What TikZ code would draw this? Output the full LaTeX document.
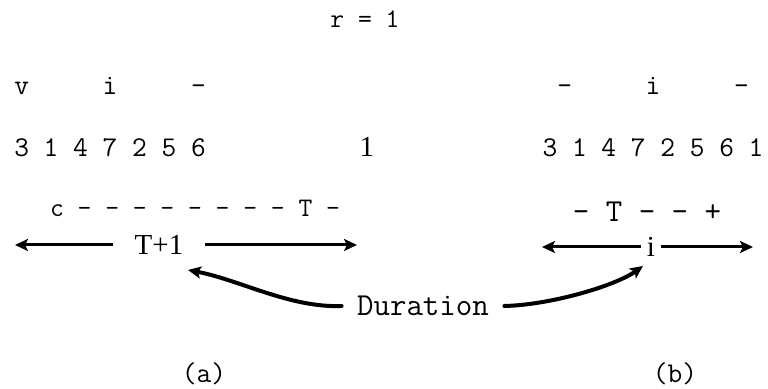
\documentclass[tikz,border=0pt]{standalone}
\usepackage{fontspec}
\newfontfamily\handset{Liberation Serif}
\usetikzlibrary{arrows.meta, positioning}
\tikzset{
    scan/.style={x=0.5pt, y=-0.5pt, >={Stealth[length=6.5pt, width=6pt, inset=1.5pt]}, line width=1.5pt},
    row/.style={anchor=base, inner sep=0pt, font=\fontsize{14.3pt}{16pt}\ttfamily},
    rownarrow/.style={row, font=\fontsize{13.4pt}{16pt}\ttfamily},
    rowwide/.style={row, font=\fontsize{16pt}{18pt}\ttfamily},
    hand/.style={inner ysep=0pt, font=\fontsize{14.5pt}{16pt}\handset},
    % the bent pointers from the word Duration
    pointer/.style={->, line width=2pt, line cap=round},
}

\begin{document}
\begin{tikzpicture}[scan]
    \useasboundingbox (0,0) rectangle (768,389);

    \node[rownarrow] (rone)  at (365,28)  {r = 1};

    % (a)
    \node[row]       (marka) at (110,95)  {v~~~~~i~~~~~-};
    \node[row]       (perma) at (110,157) {3 1 4 7 2 5 6};
    \node[hand, anchor=base, inner sep=0pt] (lone) at (367,157) {1};
    \node[rownarrow] (signa) at (195,217) {c - - - - - - - - T -};
    \node[hand, inner xsep=10pt] (tplus) at (159,245) {T+1};
    \coordinate (tleft)  at (15,245);
    \coordinate (tright) at (357,245);
    \draw[->] (tplus) -- (tleft);
    \draw[->] (tplus) -- (tright);
    \node[row]       (capa)  at (204,383) {(a)};

    % (b)
    \node[row]       (markb) at (653,95)  {-~~~~~i~~~~~-};
    \node[row]       (permb) at (653,157) {3 1 4 7 2 5 6 1};
    \node[rowwide]   (signb) at (647,222) {- T - - +};
    \node[hand, inner xsep=2pt] (imark) at (651,247) {i};
    \coordinate (ileft)  at (542,247);
    \coordinate (iright) at (753,247);
    \draw[->] (imark) -- (ileft);
    \draw[->] (imark) -- (iright);
    \node[row]       (capb)  at (675,383) {(b)};

    % Duration
    \node[rowwide, anchor=center, inner xsep=7pt] (dur) at (423,306) {Duration};
    \coordinate (heada) at (188,270);
    \coordinate (headb) at (643,266);
    \draw[pointer] (dur.west) .. controls (290,308) and (240,280) .. (heada);
    \draw[pointer] (dur.east) .. controls (550,305) and (615,286) .. (headb);
\end{tikzpicture}
\end{document}
